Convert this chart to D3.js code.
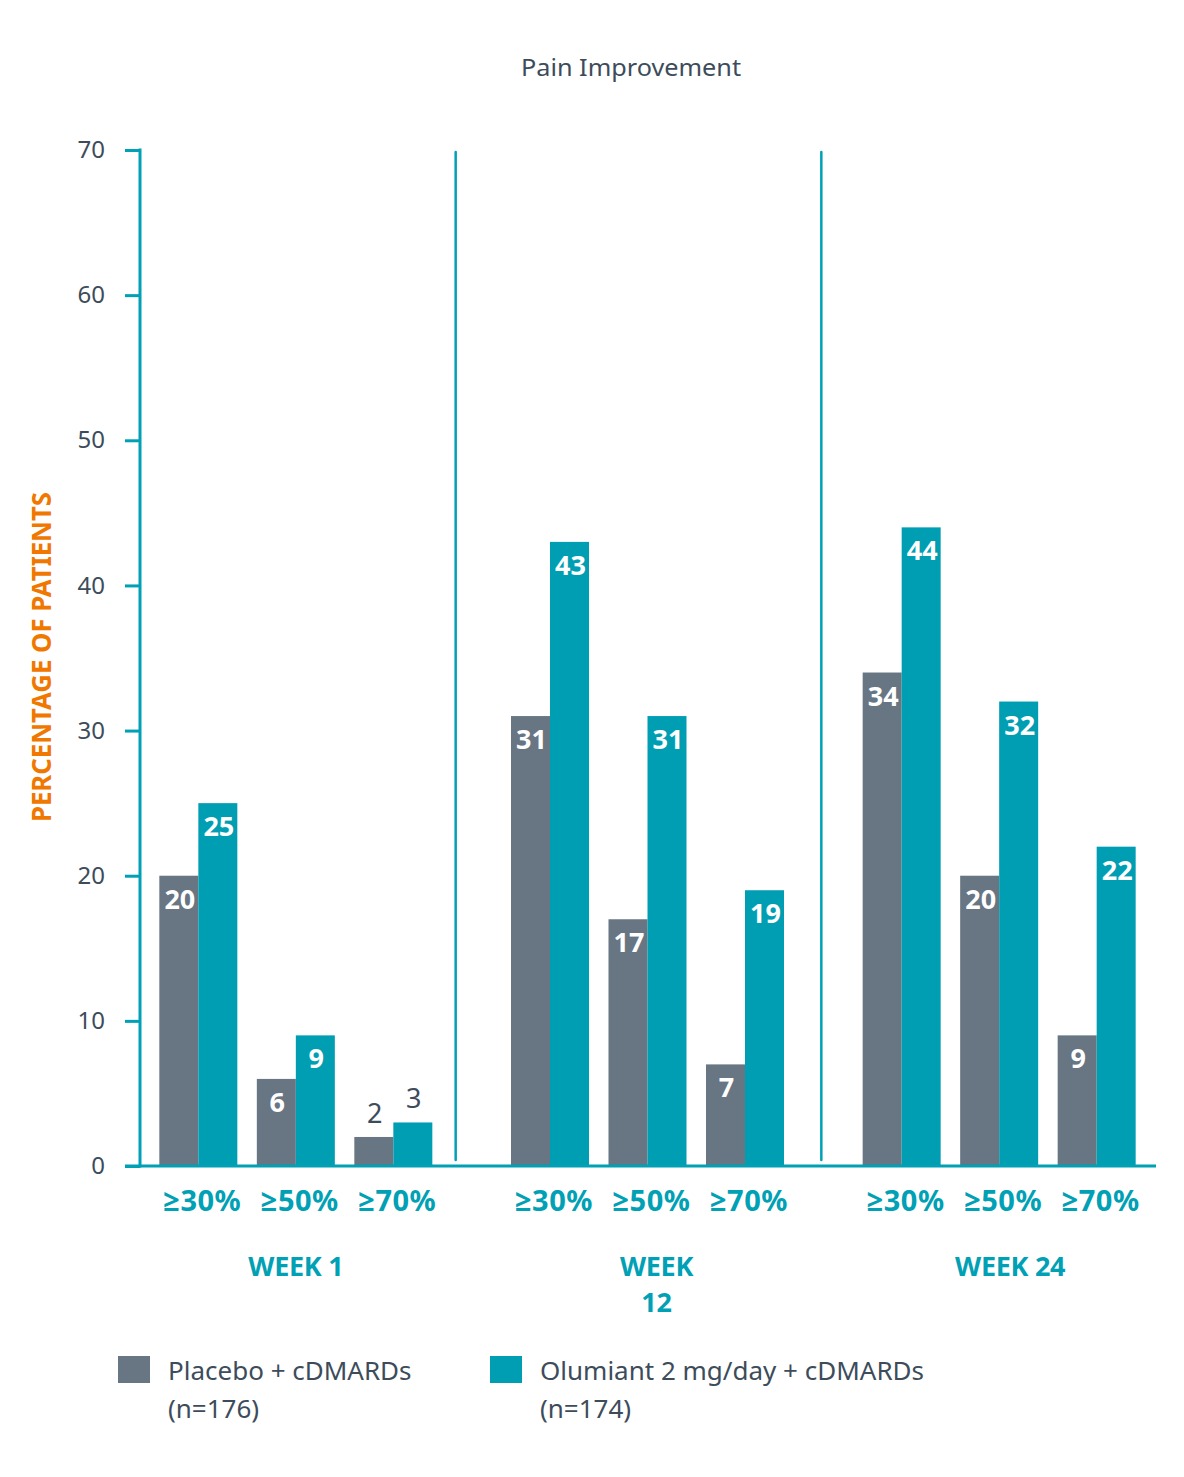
<!DOCTYPE html>
<html>
<head>
<meta charset="utf-8">
<script src="https://cdn.jsdelivr.net/npm/d3@7"></script>
<style>
  body { margin: 0; background: #fff; }
  svg text { font-family: "Noto Sans", "Open Sans", sans-serif; }
</style>
</head>
<body>
<svg id="chart"></svg>
<script>
// data
const weeks = ["WEEK 1", "WEEK 12", "WEEK 24"];
const weekLabels = [["WEEK 1"], ["WEEK", "12"], ["WEEK 24"]];
const thresholds = ["≥30%", "≥50%", "≥70%"];
const seriesNames = ["Placebo + cDMARDs", "Olumiant 2 mg/day + cDMARDs"];
const seriesN = ["(n=176)", "(n=174)"];
const placebo = [[20, 6, 2], [31, 17, 7], [34, 20, 9]];
const olumiant = [[25, 9, 3], [43, 31, 19], [44, 32, 22]];
const yTicks = [0, 10, 20, 30, 40, 50, 60, 70];

const colors = ["#687583", "#009eb3"];
const teal = "#00a0b5";
const dark = "#3d4c5b";

const width = 1184, height = 1477;
const svg = d3.select("#chart").attr("width", width).attr("height", height);

const y = d3.scaleLinear().domain([0, 70]).range([1166, 150]);
const x0 = d3.scaleBand().domain(weeks).range([120, 1175]);
const x1 = d3.scaleBand().domain(thresholds)
  .range([x0.bandwidth() / 2 - 146.25, x0.bandwidth() / 2 + 146.25])
  .paddingInner(0.2).paddingOuter(0.1);
const x2 = d3.scaleBand().domain([0, 1]).range([0, x1.bandwidth()]);

// flat list of bars
let bars = [];
weeks.forEach((w, wi) => {
  thresholds.forEach((t, ti) => {
    [placebo, olumiant].forEach((s, si) => {
      bars.push({ week: w, thr: t, s: si, value: s[wi][ti] });
    });
  });
});

// title
svg.append("text")
  .attr("x", 631).attr("y", 76)
  .attr("text-anchor", "middle")
  .attr("font-size", 24)
  .attr("fill", dark)
  .attr("textLength", 220).attr("lengthAdjust", "spacingAndGlyphs")
  .text("Pain Improvement");

// y axis title
svg.append("text")
  .attr("transform", "translate(51,657) rotate(-90)")
  .attr("text-anchor", "middle")
  .attr("font-size", 27)
  .attr("font-weight", "bold")
  .attr("fill", "#f07800")
  .attr("textLength", 330).attr("lengthAdjust", "spacingAndGlyphs")
  .text("PERCENTAGE OF PATIENTS");

// bars
svg.append("g").selectAll("rect")
  .data(bars)
  .join("rect")
  .attr("x", d => x0(d.week) + x1(d.thr) + x2(d.s))
  .attr("y", d => y(d.value))
  .attr("width", x2.bandwidth())
  .attr("height", d => y(0) - y(d.value))
  .attr("fill", d => colors[d.s]);

// value labels
svg.append("g").selectAll("text")
  .data(bars)
  .join("text")
  .attr("x", d => x0(d.week) + x1(d.thr) + x2(d.s) + x2.bandwidth() / 2 + 1)
  .attr("y", d => d.value < 5 ? y(d.value) - 14 : y(d.value) + 33)
  .attr("text-anchor", "middle")
  .attr("font-size", 27)
  .attr("font-weight", d => d.value < 5 ? "normal" : "bold")
  .attr("fill", d => d.value < 5 ? dark : "#fff")
  .text(d => d.value);

// y axis
const yAxis = svg.append("g")
  .attr("transform", "translate(140,0)")
  .call(d3.axisLeft(y).tickValues(yTicks).tickSize(15).tickPadding(20));
yAxis.select(".domain").remove();
yAxis.selectAll(".tick line").attr("stroke", teal).attr("stroke-width", 3);
yAxis.selectAll(".tick text")
  .attr("font-size", 24).attr("fill", dark)
  .attr("font-family", "Noto Sans");
svg.append("line")
  .attr("x1", 140).attr("x2", 140)
  .attr("y1", y(70) - 1.5).attr("y2", y(0) + 1.5)
  .attr("stroke", teal).attr("stroke-width", 3);

// baseline
svg.append("line")
  .attr("x1", 125).attr("x2", 1156)
  .attr("y1", y(0)).attr("y2", y(0))
  .attr("stroke", teal).attr("stroke-width", 3);

// week separators
const sepOffsets = [-16, -2];
weeks.slice(1).forEach((w, i) => {
  svg.append("line")
    .attr("x1", x0(w) + sepOffsets[i]).attr("x2", x0(w) + sepOffsets[i])
    .attr("y1", y(70) + 2).attr("y2", y(0) - 6)
    .attr("stroke", teal).attr("stroke-width", 2.5)
    .attr("stroke-linecap", "round");
});

// threshold labels
weeks.forEach(w => {
  thresholds.forEach(t => {
    svg.append("text")
      .attr("x", x0(w) + x1(t) + x1.bandwidth() / 2 + 4)
      .attr("y", 1211)
      .attr("text-anchor", "middle")
      .attr("font-size", 29)
      .attr("font-weight", "bold")
      .attr("fill", teal)
      .attr("letter-spacing", 0.5)
      .text(t);
  });
});

// week labels
const weekShift = [0, 9, 11];
weeks.forEach((w, i) => {
  const t = svg.append("text")
    .attr("x", x0(w) + x0.bandwidth() / 2 + weekShift[i])
    .attr("y", 1276)
    .attr("text-anchor", "middle")
    .attr("font-size", 27)
    .attr("font-weight", "bold")
    .attr("fill", teal)
    .attr("letter-spacing", -0.3);
  weekLabels[i].forEach((line, li) => {
    t.append("tspan")
      .attr("x", x0(w) + x0.bandwidth() / 2 + weekShift[i])
      .attr("dy", li === 0 ? 0 : 36)
      .text(line);
  });
});

// legend
const legendX = [118, 490];
seriesNames.forEach((name, i) => {
  const g = svg.append("g").attr("transform", `translate(${legendX[i]},1356)`);
  g.append("rect").attr("width", 32).attr("height", 27).attr("fill", colors[i]);
  const t = g.append("text")
    .attr("x", 50).attr("y", 24)
    .attr("font-size", 26).attr("fill", dark);
  t.append("tspan").attr("x", 50).text(name);
  t.append("tspan").attr("x", 50).attr("dy", 38).text(seriesN[i]);
});
</script>
</body>
</html>
